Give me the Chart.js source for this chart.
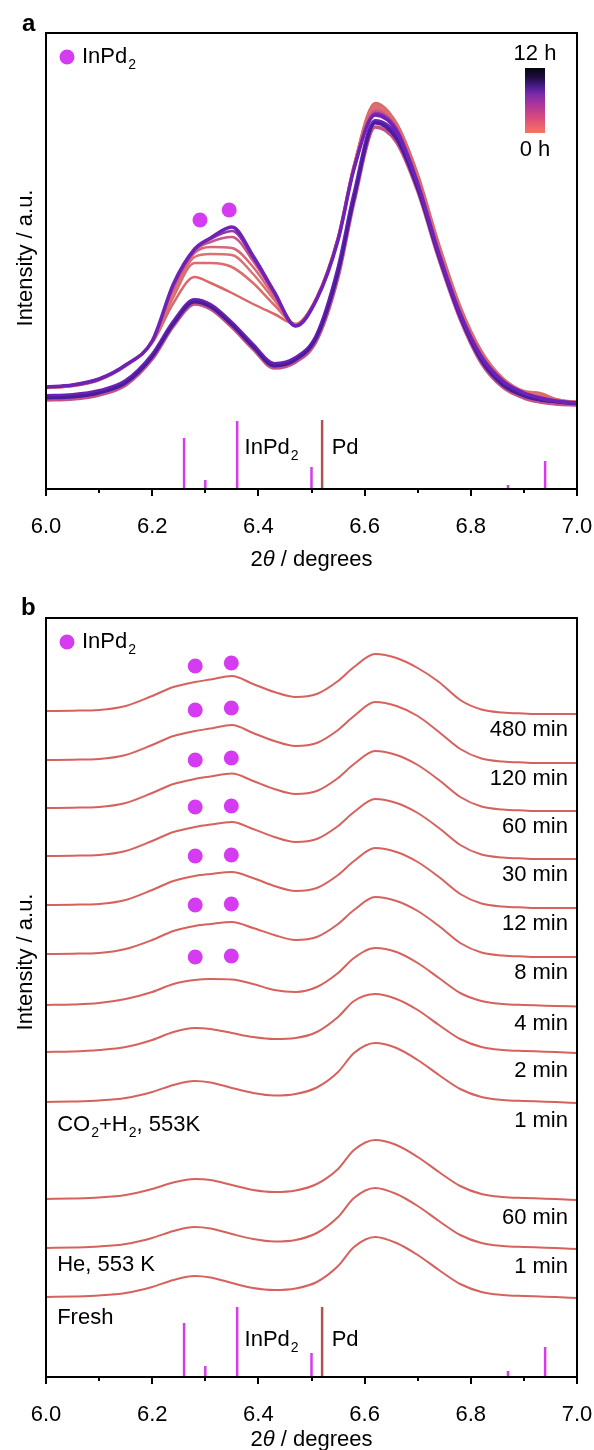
<!DOCTYPE html>
<html lang="en">
<head>
<meta charset="UTF-8">
<title>In situ XRD – InPd2 formation</title>
<script src="https://cdn.jsdelivr.net/npm/chart.js"></script>
<style>
  body { margin: 0; background: #fff; width: 594px; height: 1450px; position: relative; overflow: hidden; }
  canvas { position: absolute; left: 0; }
  #chartA { top: 0; }
  #chartB { top: 590px; }
</style>
</head>
<body>
<canvas id="chartA" width="594" height="580"></canvas>
<canvas id="chartB" width="594" height="860"></canvas>
<script>
// ---- shared 2theta grid (degrees) ----
const twoTheta = [6.00, 6.05, 6.10, 6.15, 6.20, 6.24, 6.28, 6.31, 6.35, 6.39, 6.43, 6.47, 6.51,
                  6.55, 6.58, 6.62, 6.66, 6.70, 6.74, 6.78, 6.82, 6.86, 6.90, 6.93, 6.96, 7.00];

// ---- panel a: in situ patterns 0-12 h (a.u.) ----
const aLow1 = [89, 90, 94, 104, 130, 163, 185, 180, 162, 140, 121, 127, 149, 212, 287, 362, 347, 298, 230, 170, 126, 102, 91, 87, 85, 84];
const aLow2 = [93, 94, 98, 108, 134, 167, 189, 184, 166, 144, 125, 131, 154, 220, 294, 368, 353, 303, 235, 174, 130, 106, 95, 90, 88, 86];
const aLow3 = [91, 92, 96, 106, 132, 165, 187, 182, 164, 142, 123, 129, 152, 216, 290, 366, 350, 300, 232, 172, 128, 104, 93, 89, 87, 85];
const aMid1 = [101, 103, 109, 123, 146, 186, 212, 206, 196, 185, 175, 165, 192, 252, 324, 386, 366, 315, 245, 183, 138, 111, 98, 96, 90, 87];
const aMid2 = [101, 103, 109, 123, 147, 192, 226, 226, 222, 206, 184, 165, 192, 252, 324, 384, 365, 313, 243, 181, 137, 110, 97, 95, 89, 87];
const aMid3 = [102, 104, 110, 124, 148, 197, 232, 235, 234, 215, 189, 164, 191, 251, 323, 382, 363, 311, 241, 179, 136, 110, 97, 94, 89, 87];
const aMid4 = [102, 104, 110, 124, 148, 200, 236, 242, 241, 222, 192, 164, 191, 250, 322, 380, 362, 309, 239, 178, 135, 109, 97, 93, 89, 86];
const aMid5 = [102, 104, 110, 124, 148, 202, 238, 247, 252, 228, 195, 163, 190, 250, 321, 378, 361, 308, 238, 177, 134, 109, 96, 92, 88, 86];
const aMid6 = [102, 104, 110, 124, 148, 204, 239, 250, 258, 231, 196, 163, 190, 249, 320, 376, 360, 306, 236, 176, 133, 108, 96, 91, 88, 86];
const aUpper = [102, 104, 110, 124, 148, 205, 240, 251, 262, 233, 197, 163, 190, 249, 320, 374, 358, 305, 235, 175, 132, 108, 96, 91, 88, 86];
const aMarkX = [6.29, 6.345];
const aMarkY = [269, 279];

// ---- reference sticks ----
const inpd2StickX = [6.26, 6.30, 6.36, 6.50, 6.87, 6.94];
const inpd2StickA = [51, 9, 68, 22, 4, 28];
const inpd2StickB = [54, 11, 70, 24, 6, 30];
const pdStickX = [6.52];
const pdStickA = [69];
const pdStickB = [70];

// ---- panel b: profiles above their own baseline (a.u.) ----
const bFresh = [0, 0.5, 1.5, 4, 10, 17, 21, 19.5, 14, 9, 7, 8.5, 15, 31, 50, 60, 54, 42, 27, 13, 5, 2, 1, 0.5, 0, -1];
const bHe1   = [0, 0.5, 1.5, 4, 10, 17, 21, 19.5, 14, 9, 6.5, 8, 15, 31, 50, 60, 54, 42, 27, 13, 5, 2, 1, 0.5, 0, -1];
const bHe60  = [0, 0.5, 1.5, 4, 10, 16.5, 20, 19, 14, 9, 7, 8.5, 15, 30, 49, 59, 54, 42, 27, 13, 5, 2, 1, 0.5, 0, -1];
const bR1    = [0, 0.5, 1.5, 4, 10, 17, 21, 19.5, 14, 9, 6.5, 8, 14.5, 30, 49, 59, 54, 42, 27, 13, 5, 2, 1, 0.5, 0, -1];
const bR2    = [0, 0.5, 2, 5, 12, 20, 24, 23, 19, 15, 13, 14, 20, 35, 51, 58, 53, 42, 27, 13, 5, 2, 1, 0.5, 0, -1];
const bR4    = [0, 0.5, 2, 6, 13, 21, 25, 26, 25.5, 21, 15, 13, 18, 32, 47, 57, 53, 42, 27, 12, 4, 1, 0, -0.5, -1, -1.5];
const bR8    = [0, 0.3, 1, 5, 14, 23, 28, 30, 32, 26, 19, 14, 17, 30, 44, 57, 53, 43, 28, 11, 1.5, -1.5, -2.5, -3, -3, -3];
const bR12   = [0, 0.3, 1, 5, 15, 24, 29, 31, 33, 27, 19, 14, 17, 30, 44, 57, 53, 43, 28, 11, 1.5, -1.5, -2.5, -3, -3, -3];
const bR30   = [0, 0.3, 1, 5, 15, 24, 29, 31.5, 34, 27, 19, 14, 17, 30, 44, 57, 53, 43, 28, 11, 1.5, -1.5, -2.5, -3, -3, -3];
const bR60   = [0, 0.3, 1, 5, 15, 24, 29, 31.5, 34.5, 27, 19, 14, 17, 30, 44, 57, 53, 43, 28, 11, 1.5, -1.5, -2.5, -3, -3, -3];
const bR120  = [0, 0.3, 1, 5, 15, 24, 29, 31.5, 35, 27, 19, 14, 17, 30, 44, 58, 54, 44, 28, 11, 1.5, -1.5, -2.5, -3, -3, -3];
const bR480  = [0, 0.3, 1, 5, 15, 24, 29, 31.5, 35, 27, 19, 14, 17, 30, 44, 57, 53, 43, 29, 11, 1.5, -1.5, -2.5, -3, -3, -3];
const bLabels  = ['', '1 min', '60 min', '1 min', '2 min', '4 min', '8 min', '12 min', '30 min', '60 min', '120 min', '480 min'];
const bOffsets = [80, 129, 178, 275, 325, 372, 423, 472, 521, 569, 617, 666];
const bMarkX = [6.281, 6.349];
const bMarkLeft  = [48, 49, 49, 49, 48, 50, 45];   // curves 4 min ... 480 min
const bMarkRight = [49, 50, 50, 50, 50, 52, 48];

const FONT = "'Liberation Sans', Arial, Helvetica, sans-serif";
const MAGENTA = '#d53cf2';
const PD_RED = '#b4524f';
const B_LINE = '#d6625d';

// ---------- drawing helpers ----------
function richText(ctx, segs, x, y, size, align) {
  ctx.save();
  ctx.textBaseline = 'middle';
  ctx.textAlign = 'left';
  const subSize = Math.round(size * 0.62);
  const fontOf = s => `${s.italic ? 'italic ' : ''}${s.bold ? 'bold ' : ''}${s.sub ? subSize : size}px ${FONT}`;
  let total = 0;
  segs.forEach(s => { ctx.font = fontOf(s); total += ctx.measureText(s.t).width + (s.sub ? 1 : 0); });
  let cx = align === 'right' ? x - total : align === 'center' ? x - total / 2 : x;
  segs.forEach(s => {
    ctx.font = fontOf(s);
    ctx.fillStyle = '#000';
    if (s.sub) cx += 1;
    ctx.fillText(s.t, cx, s.sub ? y + size * 0.38 : y);
    cx += ctx.measureText(s.t).width;
  });
  ctx.restore();
}
const INPD2 = [{t: 'InPd'}, {t: '2', sub: true}];

function yTitle(ctx, cy) {
  ctx.save();
  ctx.translate(26, cy);
  ctx.rotate(-Math.PI / 2);
  richText(ctx, [{t: 'Intensity / a.u.'}], 0, 0, 22, 'center');
  ctx.restore();
}

function drawFrameAndTicks(chart) {
  const {ctx, chartArea: a} = chart;
  const xs = chart.scales.x;
  ctx.save();
  ctx.strokeStyle = '#000';
  ctx.lineWidth = 2;
  ctx.strokeRect(a.left, a.top, a.right - a.left, a.bottom - a.top);
  xs.ticks.forEach(t => {
    const major = Math.round(t.value * 10) % 2 === 0;
    const px = Math.round(xs.getPixelForValue(t.value));
    ctx.beginPath();
    ctx.moveTo(px, a.bottom);
    ctx.lineTo(px, a.bottom + (major ? 7 : 4));
    ctx.stroke();
  });
  ctx.restore();
}

function drawLegend(chart) {
  const {ctx, chartArea: a} = chart;
  ctx.save();
  ctx.fillStyle = MAGENTA;
  ctx.beginPath();
  ctx.arc(a.left + 21, a.top + 24, 7.5, 0, Math.PI * 2);
  ctx.fill();
  ctx.restore();
  richText(ctx, INPD2, a.left + 36, a.top + 24, 22, 'left');
}

function stickData(xs, hs) {
  const out = [];
  xs.forEach((x, i) => { out.push({x, y: 0}, {x, y: hs[i]}, {x, y: null}); });
  return out;
}

function curve(values, offset, color, width) {
  return {
    type: 'line',
    data: twoTheta.map((x, i) => ({x, y: values[i] + offset})),
    borderColor: color, borderWidth: width, pointRadius: 0, fill: false,
    cubicInterpolationMode: 'monotone'
  };
}

function sticks(xs, hs, color) {
  return { type: 'line', data: stickData(xs, hs), borderColor: color, borderWidth: 2.5,
           pointRadius: 0, spanGaps: false, tension: 0, borderCapStyle: 'butt' };
}

function markers(points) {
  return { type: 'line', data: points, showLine: false, pointRadius: 7.5,
           pointBackgroundColor: MAGENTA, pointBorderWidth: 0 };
}

// give datasets a drawing order: first in list = bottom
function stackOrder(list) {
  list.forEach((d, i) => { d.order = list.length - i; });
  return list;
}

function baseOptions(yMax, padTop, xAxisHeight) {
  return {
    responsive: false,
    animation: false,
    events: [],
    layout: { autoPadding: false, padding: { top: padTop, right: 17, left: 0, bottom: 0 } },
    plugins: { legend: { display: false }, tooltip: { enabled: false } },
    scales: {
      x: {
        type: 'linear', min: 6, max: 7,
        ticks: {
          stepSize: 0.1, autoSkip: false, maxRotation: 0, color: '#000', padding: 18,
          font: { family: FONT, size: 22 },
          callback: v => (Math.round(v * 10) % 2 === 0 ? v.toFixed(1) : '')
        },
        grid: { display: true, drawOnChartArea: false, tickLength: 7, color: 'rgba(0,0,0,0)' },
        border: { display: false },
        afterFit: s => { s.height = xAxisHeight; s.paddingLeft = 0; s.paddingRight = 0; }
      },
      y: {
        min: 0, max: yMax,
        ticks: { display: false },
        grid: { display: false },
        border: { display: false },
        title: { display: false },
        afterFit: s => { s.width = 46; }
      }
    }
  };
}

// ---------- panel a ----------
const dsA = stackOrder([
  sticks(inpd2StickX, inpd2StickA, MAGENTA),
  sticks(pdStickX, pdStickA, PD_RED),
  curve(aLow1, 0, '#c4528a', 3.5),
  curve(aLow2, 0, '#6a22b4', 4),
  curve(aLow3, 0, '#4a1c9e', 3),
  curve(aMid1, 0, '#d9686a', 2.5),
  curve(aMid2, 0, '#dc6c6e', 2.5),
  curve(aMid3, 0, '#dd7070', 2.5),
  curve(aMid4, 0, '#d86878', 2.5),
  curve(aMid5, 0, '#c85686', 2.5),
  curve(aMid6, 0, '#9a34a6', 2.5),
  curve(aUpper, 0, '#6e22b6', 3.5),
  markers(aMarkX.map((x, i) => ({x, y: aMarkY[i]})))
]);

const decorA = {
  id: 'decorA',
  afterDraw(chart) {
    const {ctx} = chart;
    const xs = chart.scales.x, ys = chart.scales.y;
    drawFrameAndTicks(chart);
    drawLegend(chart);
    yTitle(ctx, 258);
    richText(ctx, INPD2, xs.getPixelForValue(6.374), ys.getPixelForValue(41), 22, 'left');
    richText(ctx, [{t: 'Pd'}], xs.getPixelForValue(6.538), ys.getPixelForValue(41), 22, 'left');
    // colour bar 0 h -> 12 h
    const g = ctx.createLinearGradient(0, 133, 0, 68);
    g.addColorStop(0, '#f7765c');
    g.addColorStop(0.2, '#e0507a');
    g.addColorStop(0.45, '#a8349c');
    g.addColorStop(0.6, '#7a2aa8');
    g.addColorStop(0.72, '#4a1c8c');
    g.addColorStop(0.86, '#1c0c3c');
    g.addColorStop(1, '#050510');
    ctx.fillStyle = g;
    ctx.fillRect(525, 68, 20, 65);
    richText(ctx, [{t: '12 h'}], 535, 54, 22, 'center');
    richText(ctx, [{t: '0 h'}], 535, 150, 22, 'center');
    richText(ctx, [{t: 'a', bold: true}], 22, 24, 24, 'left');
    richText(ctx, [{t: '2'}, {t: 'θ', italic: true}, {t: ' / degrees'}],
             (chart.chartArea.left + chart.chartArea.right) / 2, 560, 22, 'center');
  }
};

new Chart(document.getElementById('chartA'), {
  data: { datasets: dsA },
  options: baseOptions(456, 33, 91),
  plugins: [decorA]
});

// ---------- panel b ----------
const bProfiles = [bFresh, bHe1, bHe60, bR1, bR2, bR4, bR8, bR12, bR30, bR60, bR120, bR480];
const bMarkPts = [];
bMarkLeft.forEach((h, i) => {
  const off = bOffsets[5 + i];
  bMarkPts.push({x: bMarkX[0], y: off + h}, {x: bMarkX[1], y: off + bMarkRight[i]});
});
const dsB = stackOrder([
  sticks(inpd2StickX, inpd2StickB, MAGENTA),
  sticks(pdStickX, pdStickB, PD_RED),
  ...bProfiles.map((p, i) => curve(p, bOffsets[i], B_LINE, 2)),
  markers(bMarkPts)
]);

const decorB = {
  id: 'decorB',
  afterDraw(chart) {
    const {ctx} = chart;
    const xs = chart.scales.x, ys = chart.scales.y;
    drawFrameAndTicks(chart);
    drawLegend(chart);
    yTitle(ctx, 372);
    richText(ctx, INPD2, xs.getPixelForValue(6.374), ys.getPixelForValue(37), 22, 'left');
    richText(ctx, [{t: 'Pd'}], xs.getPixelForValue(6.538), ys.getPixelForValue(37), 22, 'left');
    bLabels.forEach((lab, i) => {
      if (lab) richText(ctx, [{t: lab}], xs.getPixelForValue(6.983), ys.getPixelForValue(bOffsets[i] - 19), 22, 'right');
    });
    const lx = xs.getPixelForValue(6.021);
    richText(ctx, [{t: 'CO'}, {t: '2', sub: true}, {t: '+H'}, {t: '2', sub: true}, {t: ', 553K'}], lx, ys.getPixelForValue(252), 22, 'left');
    richText(ctx, [{t: 'He, 553 K'}], lx, ys.getPixelForValue(112), 22, 'left');
    richText(ctx, [{t: 'Fresh'}], lx, ys.getPixelForValue(59), 22, 'left');
    richText(ctx, [{t: 'b', bold: true}], 21, 18, 24, 'left');
    richText(ctx, [{t: '2'}, {t: 'θ', italic: true}, {t: ' / degrees'}],
             (chart.chartArea.left + chart.chartArea.right) / 2, 850, 22, 'center');
  }
};

new Chart(document.getElementById('chartB'), {
  data: { datasets: dsB },
  options: baseOptions(759, 28, 73),
  plugins: [decorB]
});
</script>
</body>
</html>
